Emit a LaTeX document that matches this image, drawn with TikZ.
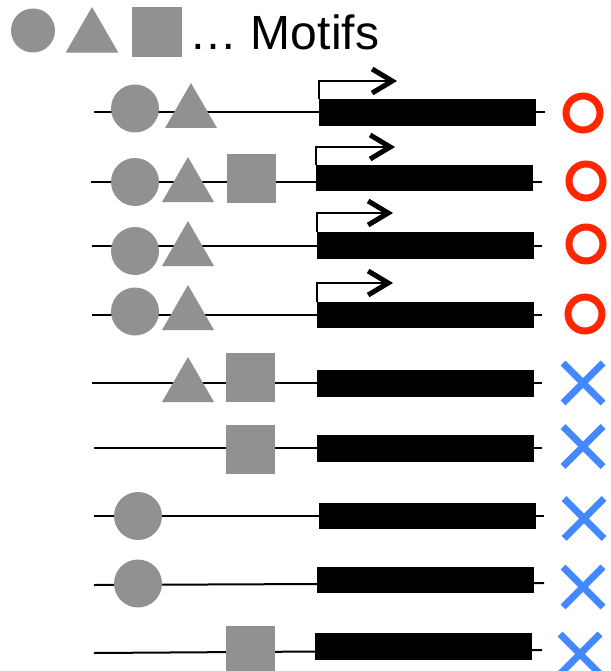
\documentclass[tikz,border=0pt]{standalone}
\usepackage{fontspec}
\setmainfont{Liberation Sans}
\usetikzlibrary{shapes.geometric,shapes.misc,arrows.meta}
\definecolor{motifgray}{RGB}{145,145,145}
\definecolor{okred}{RGB}{255,38,0}
\definecolor{ngblue}{RGB}{68,136,255}
\begin{document}
\begin{tikzpicture}[x=1pt,y=-1pt,
  dna/.style={line width=2pt,black},
  mcirc/.style={circle,fill=motifgray,inner sep=0pt,outer sep=0pt,minimum size=#1},
  mcirc/.default=48pt,
  mtri/.style={regular polygon,regular polygon sides=3,fill=motifgray,inner sep=0pt,outer sep=0pt,minimum size=#1},
  mtri/.default=60pt,
  msq/.style={rectangle,fill=motifgray,inner sep=0pt,outer sep=0pt,minimum size=#1,anchor=north west},
  msq/.default=49pt,
  genebar/.style={rectangle,fill=black,inner sep=0pt,outer sep=0pt,minimum width=217pt,minimum height=#1,anchor=north west},
  genebar/.default=27pt,
  tss/.style={line width=2.8pt,-{Straight Barb[length=20pt,width=24pt,line width=5pt]}},
  okmark/.style={circle,draw=okred,line width=7pt,inner sep=0pt,outer sep=0pt,minimum size=34pt},
  ngmark/.style={cross out,draw=ngblue,line width=7pt,inner sep=0pt,outer sep=0pt,minimum size=40pt},
  legendtext/.style={anchor=base west,inner sep=0pt,font=\fontsize{48}{58}\selectfont}
]
\useasboundingbox (0,0) rectangle (610,671);

% legend
\node[mcirc=44pt] (lc) at (33,30.5) {};
\node[mtri=61pt] (lt) at (92,37.5) {};
\node[msq=50pt] (ls) at (132,7) {};
\node[legendtext] (lbl) at (189.5,50) {… Motifs};

% row 1
\coordinate (l1) at (94,112); \coordinate (r1) at (545,112);
\draw[dna] (l1) -- (r1);
\node[mcirc] (c1) at (135,108.5) {};
\node[mtri] (t1) at (191,113) {};
\node[genebar] (g1) at (319,99) {};
\coordinate (p1) at (397,81);
\draw[tss] (g1.north west) |- (p1);
\node[okmark] (m1) at (583,113) {};

% row 2
\coordinate (l2) at (91,182); \coordinate (r2) at (542,182);
\draw[dna] (l2) -- (r2);
\node[mcirc] (c2) at (135,182) {};
\node[mtri] (t2) at (188,187) {};
\node[msq] (s2) at (227,154) {};
\node[genebar=26pt] (g2) at (316,165) {};
\coordinate (p2) at (395,147);
\draw[tss] (g2.north west) |- (p2);
\node[okmark] (m2) at (586,181) {};

% row 3
\coordinate (l3) at (92,246); \coordinate (r3) at (542,246);
\draw[dna] (l3) -- (r3);
\node[mcirc] (c3) at (135,251) {};
\node[mtri] (t3) at (188,251) {};
\node[genebar] (g3) at (317,232) {};
\coordinate (p3) at (393,213);
\draw[tss] (g3.north west) |- (p3);
\node[okmark] (m3) at (586,244) {};

% row 4
\coordinate (l4) at (92,315); \coordinate (r4) at (542,315);
\draw[dna] (l4) -- (r4);
\node[mcirc] (c4) at (135,311.5) {};
\node[mtri] (t4) at (188,315) {};
\node[genebar=26pt] (g4) at (317,302) {};
\coordinate (p4) at (393,283);
\draw[tss] (g4.north west) |- (p4);
\node[okmark] (m4) at (585,314) {};

% row 5
\coordinate (l5) at (92,383); \coordinate (r5) at (542,383);
\draw[dna] (l5) -- (r5);
\node[mtri] (t5) at (188,387) {};
\node[msq] (s5) at (226,353) {};
\node[genebar] (g5) at (317,370) {};
\node[ngmark] (m5) at (583,383) {};

% row 6
\coordinate (l6) at (94,448); \coordinate (r6) at (542,448);
\draw[dna] (l6) -- (r6);
\node[msq] (s6) at (226,425) {};
\node[genebar] (g6) at (317,435) {};
\node[ngmark] (m6) at (583,446.5) {};

% row 7
\coordinate (l7) at (94,516); \coordinate (r7) at (544,516);
\draw[dna] (l7) -- (r7);
\node[mcirc] (c7) at (138,516) {};
\node[genebar=26pt] (g7) at (319,503) {};
\node[ngmark] (m7) at (584,518.5) {};

% row 8
\coordinate (l8) at (94,585); \coordinate (r8) at (544,583);
\draw[dna] (l8) -- (r8);
\node[mcirc] (c8) at (138,583.5) {};
\node[genebar=26pt] (g8) at (317,567) {};
\node[ngmark] (m8) at (583,587) {};

% row 9
\coordinate (l9) at (94,653); \coordinate (r9) at (542,650);
\draw[dna] (l9) -- (r9);
\node[msq] (s9) at (226,626) {};
\node[genebar] (g9) at (315,633) {};
\node[ngmark] (m9) at (580,654) {};
\end{tikzpicture}
\end{document}
